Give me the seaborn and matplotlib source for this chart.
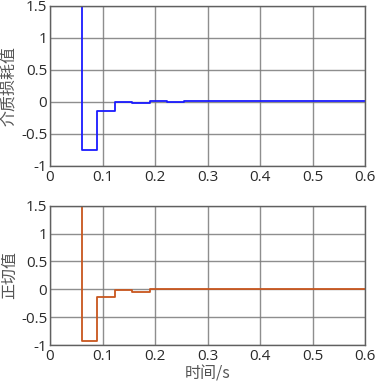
import numpy as np
import matplotlib
matplotlib.use("Agg")
import matplotlib.pyplot as plt
import seaborn as sns

# step change times (s) and the value held from each time on
t_loss = [0.0, 0.06, 0.09, 0.123, 0.156, 0.19, 0.223, 0.256, 0.6]
v_loss = [2.0, -0.75, -0.15, 0.0, -0.02, 0.02, 0.0, 0.015, 0.015]
t_tan = [0.0, 0.06, 0.09, 0.123, 0.156, 0.19, 0.6]
v_tan = [2.0, -0.92, -0.14, -0.02, -0.05, 0.0, 0.0]

x_ticks = [0, 0.1, 0.2, 0.3, 0.4, 0.5, 0.6]
x_labels = ["0", "0.1", "0.2", "0.3", "0.4", "0.5", "0.6"]
y_ticks = [-1, -0.5, 0, 0.5, 1, 1.5]
y_labels = ["-1", "-0.5", "0", "0.5", "1", "1.5"]

sns.set_style("white")
plt.rcParams["font.family"] = ["Open Sans", "Noto Sans CJK SC", "DejaVu Sans"]

fig = plt.figure(figsize=(3.76, 3.87), dpi=100)
ax1 = fig.add_axes([0.133, 0.572, 0.838, 0.4125])
ax2 = fig.add_axes([0.133, 0.1085, 0.838, 0.36])

panels = [
    (ax1, t_loss, v_loss, "#1a1aff", "介质损耗值"),
    (ax2, t_tan, v_tan, "#c8561e", "正切值"),
]
for ax, t, v, col, lab in panels:
    sns.lineplot(x=t, y=v, ax=ax, color=col, lw=1.3, drawstyle="steps-post")
    ax.set_xlim(0, 0.6)
    ax.set_ylim(-1, 1.5)
    ax.set_xticks(x_ticks)
    ax.set_xticklabels(x_labels)
    ax.set_yticks(y_ticks)
    ax.set_yticklabels(y_labels)
    ax.grid(True, color="#7a7a7a", lw=1.0, alpha=0.85)
    ax.set_axisbelow(True)
    for s in ax.spines.values():
        s.set_color("#606060")
        s.set_linewidth(1.0)
    ax.tick_params(direction="in", length=3, labelsize=11, colors="#2a2a2a")
    ax.tick_params(axis="x", pad=3)
    ax.tick_params(axis="y", pad=2)
    ax.set_ylabel(lab, family=["Noto Sans CJK SC"], fontsize=11.5, color="#555555", labelpad=2)

ax2.set_xlabel("时间/s", family=["Noto Sans CJK SC", "DejaVu Sans"], fontsize=11.5, color="#555555", labelpad=1)

fig.savefig("out.png", dpi=100)
